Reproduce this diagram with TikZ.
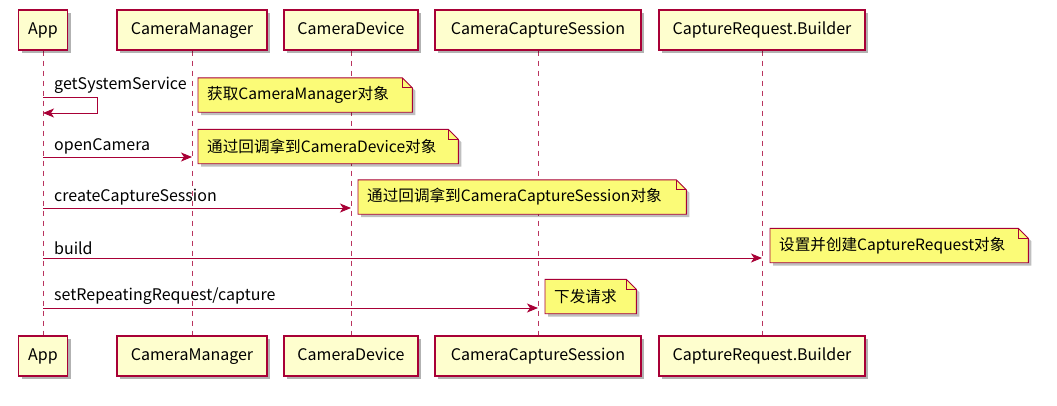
\documentclass[tikz,border=0pt]{standalone}
\usepackage{fontspec}
\setmainfont{Noto Sans CJK SC}
\usetikzlibrary{arrows.meta,positioning,calc,shadows,backgrounds}
\definecolor{umlred}{HTML}{A80036}
\definecolor{partfill}{HTML}{FEFECE}
\definecolor{notefill}{HTML}{FBFB77}
\begin{document}
\begin{tikzpicture}[x=1pt,y=-1pt,
    part/.style={draw=umlred, fill=partfill, line width=1.2pt, minimum height=40pt, inner sep=0pt,
        text height=12pt, text depth=4pt, font=\fontsize{16}{18}\selectfont,
        drop shadow={shadow xshift=3pt, shadow yshift=-3pt, opacity=0.3, fill=black}},
    life/.style={umlred!80, line width=1pt, dash pattern=on 5pt off 5pt},
    msg/.style={umlred, line width=0.9pt, -{Stealth[length=11pt, width=9pt, inset=3pt]}},
    msglabel/.style={anchor=south west, inner sep=1pt, font=\fontsize{16}{18}\selectfont},
    note/.style={anchor=west, inner xsep=9pt, inner ysep=0pt, minimum height=34pt, text width=#1,
        align=left, font=\fontsize{15.6}{17}\selectfont}]
    \useasboundingbox (0,0) rectangle (1057,405);

    % Participants, top and bottom
    \node[part, minimum width=49pt]  (appT) at (43,30)  {App};
    \node[part, minimum width=150pt] (mgrT) at (192,30) {CameraManager};
    \node[part, minimum width=134pt] (devT) at (351,30) {CameraDevice};
    \node[part, minimum width=206pt] (sesT) at (538,30) {CameraCaptureSession};
    \node[part, minimum width=206pt] (reqT) at (762,30) {CaptureRequest.Builder};
    \node[part, minimum width=49pt]  (appB) at (43,356)  {App};
    \node[part, minimum width=150pt] (mgrB) at (192,356) {CameraManager};
    \node[part, minimum width=134pt] (devB) at (351,356) {CameraDevice};
    \node[part, minimum width=206pt] (sesB) at (538,356) {CameraCaptureSession};
    \node[part, minimum width=206pt] (reqB) at (762,356) {CaptureRequest.Builder};

    % Notes
    \node[note=196pt] (noteA) at (198,95)  {获取CameraManager对象};
    \node[note=242pt] (noteB) at (198,146.5) {通过回调拿到CameraDevice对象};
    \node[note=310pt] (noteC) at (358,197) {通过回调拿到CameraCaptureSession对象};
    \node[note=240pt] (noteD) at (770,245.5) {设置并创建CaptureRequest对象};
    \node[note=73pt]  (noteE) at (545,296.5) {下发请求};

    \begin{scope}[on background layer]
        % Lifelines
        \foreach \p in {app,mgr,dev,ses,req}
            \draw[life] (\p T.south) -- (\p B.north);
        % Note shapes with folded corner
        \foreach \n in {noteA,noteB,noteC,noteD,noteE}{
            \fill[black, opacity=0.25] ([shift={(3pt,-3pt)}]\n.north west) -- ([shift={(-7pt,-3pt)}]\n.north east)
                -- ([shift={(3pt,-13pt)}]\n.north east) -- ([shift={(3pt,-3pt)}]\n.south east)
                -- ([shift={(3pt,-3pt)}]\n.south west) -- cycle;
            \filldraw[fill=notefill, draw=umlred, line width=0.9pt] (\n.north west) -- ([xshift=-10pt]\n.north east)
                -- ([yshift=-10pt]\n.north east) -- (\n.south east) -- (\n.south west) -- cycle;
            \draw[umlred, line width=0.9pt] ([xshift=-10pt]\n.north east) |- ([yshift=-10pt]\n.north east);
        }
    \end{scope}

    % Messages
    \draw[msg] (appT |- 0,97) -- ++(54,0) -- ++(0,16) -- (appT |- 0,113);
    \node[msglabel] (lblA) at ($(appT |- 0,95)+(10,0)$) {getSystemService};
    \draw[msg] (appT |- 0,157) -- (mgrT |- 0,157);
    \node[msglabel] (lblB) at ($(appT |- 0,155)+(10,0)$) {openCamera};
    \draw[msg] (appT |- 0,208) -- (devT |- 0,208);
    \node[msglabel] (lblC) at ($(appT |- 0,206)+(10,0)$) {createCaptureSession};
    \draw[msg] (appT |- 0,258) -- (reqT |- 0,258);
    \node[msglabel] (lblD) at ($(appT |- 0,256)+(10,0)$) {build};
    \draw[msg] (appT |- 0,308) -- (sesT |- 0,308);
    \node[msglabel] (lblE) at ($(appT |- 0,306)+(10,0)$) {setRepeatingRequest/capture};
\end{tikzpicture}
\end{document}
